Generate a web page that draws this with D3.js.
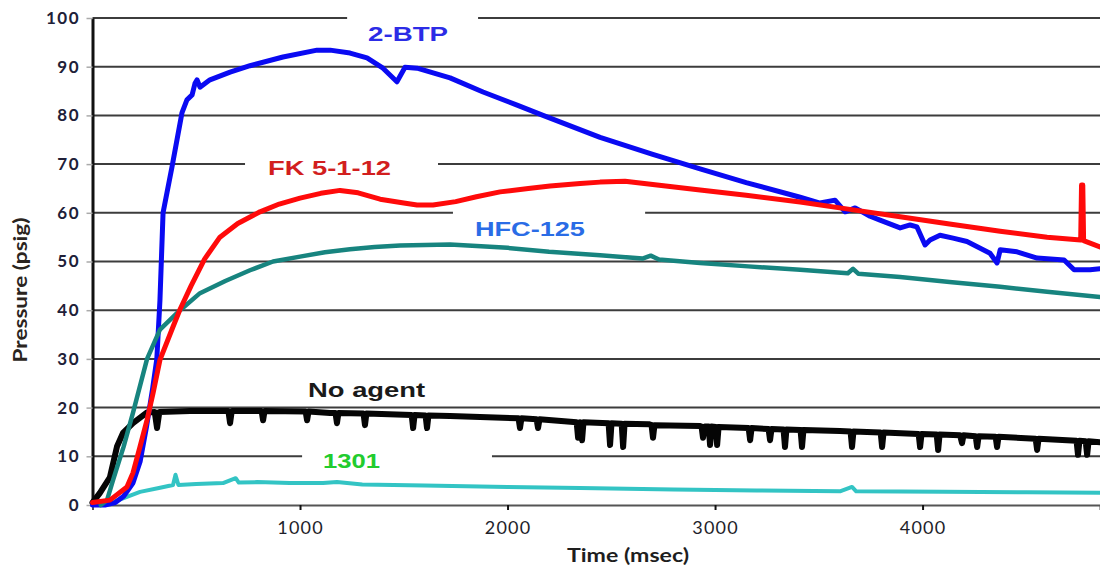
<!DOCTYPE html>
<html><head><meta charset="utf-8">
<script src="https://cdn.jsdelivr.net/npm/d3@7"></script>
<style>
html,body{margin:0;padding:0;background:#fff;}
svg{display:block;}
</style></head>
<body>
<svg id="chart" width="1100" height="572"></svg>
<script>
// ---------- data (time in msec, pressure in psig) ----------
const xTicks = [1000, 2000, 3000, 4000];
const yTicks = [0, 10, 20, 30, 40, 50, 60, 70, 80, 90, 100];

const btpT = [0, 60, 110, 150, 195, 230, 260, 290, 310, 325, 340, 383, 431, 455, 480, 494, 504, 518, 566, 663, 759, 918, 1082, 1145, 1241, 1323, 1400, 1467, 1506, 1564, 1723, 1882, 2046, 2171, 2446, 2700, 2928, 3150, 3410, 3506, 3578, 3627, 3675, 3747, 3795, 3892, 3940, 3973, 4012, 4036, 4084, 4147, 4214, 4325, 4359, 4374, 4455, 4552, 4682, 4730, 4807, 4855];
const btpV = [0, 0, 0.5, 1.8, 4.5, 9, 16, 24, 30, 42, 60, 69.4, 80.5, 83.2, 84.2, 86.6, 87.3, 85.8, 87.3, 88.9, 90.2, 92, 93.4, 93.4, 92.8, 91.8, 89.7, 86.9, 89.9, 89.7, 87.7, 84.8, 82.1, 80, 75.5, 72, 69, 66.2, 63.2, 62, 62.6, 60.2, 61, 59.3, 58.5, 56.9, 57.5, 57.1, 53.4, 54.4, 55.4, 54.8, 54.1, 51.7, 49.7, 52.4, 52, 50.7, 50.3, 48.3, 48.3, 48.5];

const fkT = [0, 84, 166, 195, 229, 263, 292, 325, 388, 420, 475, 540, 614, 700, 807, 900, 1000, 1100, 1193, 1280, 1386, 1500, 1564, 1641, 1750, 1850, 1964, 2100, 2205, 2350, 2446, 2566, 2700, 2928, 3150, 3410, 3650, 3892, 4130, 4374, 4600, 4762, 4766, 4772, 4776, 4855];
const fkV = [0.5, 1, 3.7, 6.6, 12, 17.5, 23, 29.8, 36.6, 40, 45, 50.5, 55, 57.8, 60.2, 61.8, 63, 64, 64.6, 64.1, 62.8, 62, 61.6, 61.6, 62.3, 63.3, 64.3, 65, 65.5, 66, 66.3, 66.5, 65.8, 64.7, 63.6, 62.2, 60.7, 59.2, 57.7, 56.2, 55, 54.4, 65.7, 65.7, 54.3, 53];

const hfcT = [40, 70, 99, 150, 195, 263, 325, 422, 518, 640, 759, 870, 1000, 1120, 1241, 1360, 1482, 1723, 2000, 2200, 2446, 2650, 2690, 2730, 2928, 3160, 3410, 3640, 3665, 3690, 3892, 4130, 4374, 4600, 4855];
const hfcV = [0, 1, 5.1, 12, 18.9, 30, 36, 40, 43.5, 46, 48.2, 50, 51, 51.9, 52.5, 53, 53.3, 53.5, 52.8, 52, 51.3, 50.6, 51.2, 50.4, 49.7, 49, 48.3, 47.6, 48.5, 47.5, 46.8, 45.8, 44.8, 43.8, 42.7];

const noAgentT = [0, 36, 84, 118, 147, 195, 263, 300, 311, 322, 470, 655, 663, 671, 815, 822, 829, 1027, 1034, 1041, 1145, 1171, 1178, 1185, 1306, 1313, 1320, 1538, 1545, 1552, 1605, 1612, 1619, 1723, 2053, 2060, 2067, 2140, 2147, 2154, 2333, 2340, 2349, 2359, 2366, 2487, 2494, 2501, 2550, 2557, 2564, 2680, 2694, 2701, 2708, 2928, 2935, 2942, 2950, 2969, 2976, 2983, 3003, 3010, 3017, 3162, 3169, 3176, 3258, 3265, 3272, 3330, 3337, 3344, 3412, 3419, 3426, 3602, 3653, 3660, 3667, 3798, 3805, 3812, 3981, 3988, 3995, 4068, 4075, 4082, 4181, 4190, 4197, 4256, 4263, 4270, 4352, 4359, 4366, 4545, 4552, 4559, 4742, 4749, 4756, 4786, 4793, 4800, 4855];
const noAgentV = [0.5, 2.5, 5.7, 12, 14.8, 16.8, 19, 19.1, 15.8, 19.1, 19.3, 19.3, 16.8, 19.3, 19.3, 17.4, 19.3, 19.2, 17.4, 19.2, 18.9, 18.9, 16.8, 18.9, 18.8, 16.4, 18.8, 18.5, 15.8, 18.5, 18.4, 15.8, 18.4, 18.3, 17.8, 15.8, 17.8, 17.6, 15.8, 17.6, 17, 13.8, 17, 13.3, 17, 16.8, 12.3, 16.8, 16.7, 11.9, 16.7, 16.6, 16.4, 13.8, 16.4, 16.2, 16.1, 13.8, 16.1, 16.1, 12.3, 16.1, 16, 12.3, 16, 15.8, 13.3, 15.8, 15.6, 13.3, 15.6, 15.5, 11.9, 15.5, 15.4, 11.9, 15.4, 15.2, 15.1, 11.9, 15.1, 14.9, 11.9, 14.9, 14.6, 11.9, 14.6, 14.5, 11.3, 14.5, 14.3, 12.7, 14.3, 14.1, 11.9, 14.1, 14, 11.9, 14, 13.6, 11.3, 13.6, 13.2, 10.3, 13.2, 13.1, 10.3, 13.1, 12.9];

const h1301T = [60, 84, 150, 229, 320, 388, 400, 414, 500, 629, 690, 705, 793, 950, 1111, 1178, 1300, 1600, 2000, 2349, 2800, 3200, 3602, 3660, 3680, 4100, 4500, 4855];
const h1301V = [0, 0.4, 1.4, 2.7, 3.5, 4.1, 6.2, 4.1, 4.3, 4.5, 5.5, 4.6, 4.7, 4.5, 4.5, 4.7, 4.2, 4, 3.7, 3.5, 3.2, 3, 2.8, 3.7, 2.8, 2.7, 2.6, 2.5];

const seriesNames = ["1301", "No agent", "2-BTP", "HFC-125", "FK 5-1-12"];
const seriesT = [h1301T, noAgentT, btpT, hfcT, fkT];
const seriesV = [h1301V, noAgentV, btpV, hfcV, fkV];
const seriesColors = ["#33c4c4", "#050505", "#0a0af2", "#17847f", "#ff0a0a"];
const seriesWidths = [4, 6, 5, 4.5, 5];

// labels (anchored in data coordinates); label boxes hide the gridline behind them
const labelText = ["2-BTP", "FK 5-1-12", "HFC-125", "No agent", "1301"];
const labelT = [1328, 846, 1843, 1039, 1111];
const labelV = [95.2, 67.8, 55.3, 22.2, 7.6];
const labelColors = ["#2c2ce6", "#d21e1e", "#2a6ce6", "#1a1a1a", "#22cc2e"];
const labelWidths = [80, 123, 110, 117, 57];
const boxT0 = [1227, 735, 1737, 1010];
const boxT1 = [1858, 1665, 2663, 1925];
const boxV0 = [93.4, 66.3, 53.2, 6.4];
const boxV1 = [100.8, 72.5, 61, 12.1];

// ---------- drawing ----------
const svg = d3.select("#chart");
const x = d3.scaleLinear().domain([0, 4855]).range([92.5, 1100]);
const y = d3.scaleLinear().domain([0, 100]).range([505, 18]);

// gridlines
svg.append("g").selectAll("line").data(yTicks.filter(d => d > 0)).join("line")
  .attr("x1", x(0)).attr("x2", x(4855))
  .attr("y1", d => y(d)).attr("y2", d => y(d))
  .attr("stroke", "#3c3c3c").attr("stroke-width", 2);

// label boxes
svg.append("g").selectAll("rect").data(boxT0.map((d, i) => i)).join("rect")
  .attr("x", i => x(boxT0[i])).attr("width", i => x(boxT1[i]) - x(boxT0[i]))
  .attr("y", i => y(boxV1[i])).attr("height", i => y(boxV0[i]) - y(boxV1[i]))
  .attr("fill", "#fff");

// axes
const xAxis = svg.append("g").attr("transform", `translate(0,${y(0)})`)
  .call(d3.axisBottom(x).tickValues(xTicks).tickSize(5).tickPadding(11).tickFormat(d3.format("d")));
xAxis.select(".domain").attr("stroke", "#555").attr("stroke-width", 2);
xAxis.selectAll(".tick line").attr("stroke", "#111").attr("stroke-width", 2);
xAxis.selectAll("text").attr("font-family", "Lato").attr("font-size", 18)
  .attr("fill", "#1e1e2a").attr("letter-spacing", 1.2);

const yAxis = svg.append("g").attr("transform", `translate(${x(0)},0)`)
  .call(d3.axisLeft(y).tickValues(yTicks).tickSize(6).tickPadding(6.5).tickSizeOuter(0));
yAxis.select(".domain").attr("stroke", "#111").attr("stroke-width", 3);
yAxis.selectAll(".tick line").attr("stroke", "#aaa").attr("stroke-width", 1.5);
yAxis.selectAll("text").attr("font-family", "Lato").attr("font-weight", 700)
  .attr("font-size", 17).attr("fill", "#202038").attr("letter-spacing", 1.5);

// series
const line = d3.line().x(d => x(d[0])).y(d => y(d[1])).curve(d3.curveLinear);
svg.append("g").attr("fill", "none").attr("stroke-linejoin", "round").attr("stroke-linecap", "round")
  .selectAll("path").data(seriesNames.map((n, i) => i)).join("path")
  .attr("d", i => line(seriesT[i].map((t, j) => [t, seriesV[i][j]])))
  .attr("stroke", i => seriesColors[i]).attr("stroke-width", i => seriesWidths[i]);

// series labels
svg.append("g").selectAll("text").data(labelText).join("text")
  .attr("x", (d, i) => x(labelT[i])).attr("y", (d, i) => y(labelV[i]))
  .attr("font-family", "Liberation Sans, Arial, sans-serif").attr("font-weight", 700)
  .attr("font-size", 21).attr("fill", (d, i) => labelColors[i])
  .attr("textLength", (d, i) => labelWidths[i]).attr("lengthAdjust", "spacingAndGlyphs")
  .text(d => d);

// axis titles
svg.append("text").attr("x", 628).attr("y", 562).attr("text-anchor", "middle")
  .attr("font-family", "Lato").attr("font-weight", 700).attr("font-size", 19)
  .attr("fill", "#1e1e1e").attr("textLength", 122).attr("lengthAdjust", "spacingAndGlyphs")
  .text("Time (msec)");
svg.append("text").attr("transform", "translate(27,290) rotate(-90)").attr("text-anchor", "middle")
  .attr("font-family", "Lato").attr("font-weight", 700).attr("font-size", 18)
  .attr("fill", "#2a2420").attr("textLength", 145).attr("lengthAdjust", "spacingAndGlyphs")
  .text("Pressure (psig)");
</script>
</body></html>
